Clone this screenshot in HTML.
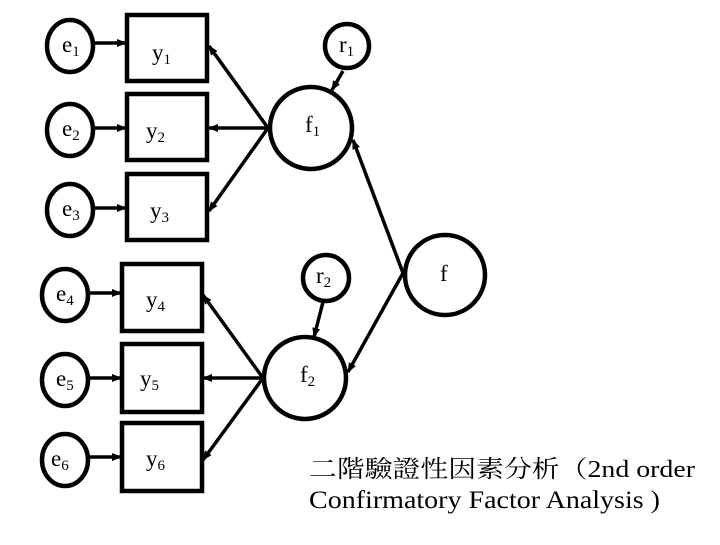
<!DOCTYPE html>
<html><head><meta charset="utf-8"><style>html,body{margin:0;padding:0;background:#fff}</style></head><body>
<svg width="720" height="540" xmlns="http://www.w3.org/2000/svg" font-family="Liberation Serif, serif">
<defs><marker id="a" markerWidth="10" markerHeight="10" refX="9" refY="5" orient="auto" markerUnits="userSpaceOnUse"><path d="M0,1 L10,5 L0,9 z" fill="#000"/></marker></defs>
<g fill="none" stroke="#000" stroke-width="4.5">
<ellipse cx="70" cy="46" rx="23" ry="26"/><ellipse cx="70" cy="130" rx="23" ry="26"/><ellipse cx="70" cy="210" rx="23" ry="26"/>
<ellipse cx="65" cy="295" rx="23" ry="26"/><ellipse cx="65" cy="380" rx="23" ry="26"/><ellipse cx="65" cy="460" rx="23" ry="26"/>
<rect x="127" y="15" width="80" height="66"/><rect x="127" y="94" width="80" height="66"/><rect x="127" y="174" width="80" height="66"/>
<rect x="122" y="264" width="80" height="67"/><rect x="122" y="344" width="80" height="68"/><rect x="122" y="423" width="80" height="68"/>
<circle cx="311" cy="128" r="41"/><circle cx="347" cy="46" r="22"/>
<circle cx="305" cy="378" r="41"/><circle cx="326" cy="278" r="23"/>
<circle cx="445" cy="275" r="40"/>
</g>
<g stroke="#000" stroke-width="3.5" marker-end="url(#a)">
<line x1="94" y1="43" x2="126" y2="43"/><line x1="94" y1="128" x2="126" y2="128"/><line x1="94" y1="208" x2="126" y2="208"/>
<line x1="89" y1="293" x2="121" y2="293"/><line x1="89" y1="378" x2="121" y2="378"/><line x1="89" y1="457" x2="121" y2="457"/>
<line x1="268" y1="128" x2="209" y2="46"/><line x1="268" y1="128" x2="209" y2="128"/><line x1="268" y1="128" x2="209" y2="211"/>
<line x1="263" y1="378" x2="203" y2="295"/><line x1="263" y1="378" x2="203" y2="378"/><line x1="263" y1="378" x2="203" y2="460"/>
<line x1="343" y1="71" x2="332" y2="90"/><line x1="323" y1="302" x2="314" y2="337"/>
<line x1="403" y1="273" x2="353" y2="140"/><line x1="403" y1="273" x2="348" y2="372"/>
</g>
<g font-size="23" fill="#000">
<text x="62" y="52">e<tspan font-size="15" dy="4">1</tspan></text>
<text x="62" y="136">e<tspan font-size="15" dy="4">2</tspan></text>
<text x="62" y="216">e<tspan font-size="15" dy="4">3</tspan></text>
<text x="56" y="301">e<tspan font-size="15" dy="4">4</tspan></text>
<text x="56" y="386">e<tspan font-size="15" dy="4">5</tspan></text>
<text x="51" y="466">e<tspan font-size="15" dy="4">6</tspan></text>
<text x="152" y="60">y<tspan font-size="15" dy="4">1</tspan></text>
<text x="146" y="138">y<tspan font-size="15" dy="4">2</tspan></text>
<text x="150" y="218">y<tspan font-size="15" dy="4">3</tspan></text>
<text x="146" y="307">y<tspan font-size="15" dy="4">4</tspan></text>
<text x="140" y="386">y<tspan font-size="15" dy="4">5</tspan></text>
<text x="146" y="466">y<tspan font-size="15" dy="4">6</tspan></text>
<text x="305" y="132">f<tspan font-size="15" dy="4">1</tspan></text>
<text x="300" y="382">f<tspan font-size="15" dy="4">2</tspan></text>
<text x="339" y="52">r<tspan font-size="15" dy="4">1</tspan></text>
<text x="316" y="283">r<tspan font-size="15" dy="4">2</tspan></text>
<text x="440" y="281">f</text>
<text x="309" y="477" font-family="Liberation Serif, Noto Serif CJK SC, serif" font-size="24" textLength="386" lengthAdjust="spacingAndGlyphs">二階驗證性因素分析（2nd order</text>
<text x="309" y="508" font-size="25" textLength="351" lengthAdjust="spacingAndGlyphs">Confirmatory Factor Analysis )</text>
</g>
</svg>
</body></html>
